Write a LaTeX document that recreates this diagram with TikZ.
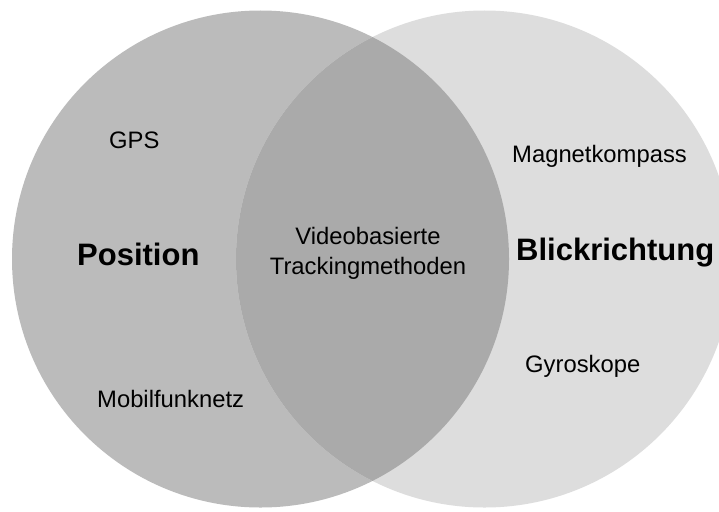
\documentclass[tikz,border=0pt]{standalone}
\usepackage{fontspec}
\setmainfont{Liberation Sans}
\definecolor{leftgray}{HTML}{BBBBBB}
\definecolor{rightgray}{HTML}{DDDDDD}
\definecolor{lensgray}{HTML}{AAAAAA}
\begin{document}
\begin{tikzpicture}[x=1pt,y=-1pt,
  item/.style={inner sep=0pt,anchor=base west,font=\fontsize{23.8}{28}\selectfont},
  heading/.style={inner sep=0pt,anchor=base west,font=\fontsize{31}{36}\selectfont\bfseries}]
  \useasboundingbox (0,0) rectangle (719,511);
  \fill[white] (0,0) rectangle (719,511);
  \clip (0,0) rectangle (719,511);
  % the two sets
  \fill[leftgray] (260.5,259) circle[radius=248.5];
  \fill[rightgray] (484.5,259) circle[radius=248.5];
  % their intersection
  \begin{scope}
    \clip (260.5,259) circle[radius=248.5];
    \fill[lensgray] (484.5,259) circle[radius=248.5];
  \end{scope}
  % labels
  \node[item] (gps) at (109,148) {GPS};
  \node[heading] (pos) at (77,265) {Position};
  \node[item] (mob) at (97,407) {Mobilfunknetz};
  \node[inner sep=0pt,align=center,font=\fontsize{23.8}{30}\selectfont] (video) at (368,253) {Videobasierte\\Trackingmethoden};
  \node[item] (mag) at (512,162) {Magnetkompass};
  \node[heading] (blick) at (516,260) {Blickrichtung};
  \node[item] (gyro) at (525,372) {Gyroskope};
\end{tikzpicture}
\end{document}
